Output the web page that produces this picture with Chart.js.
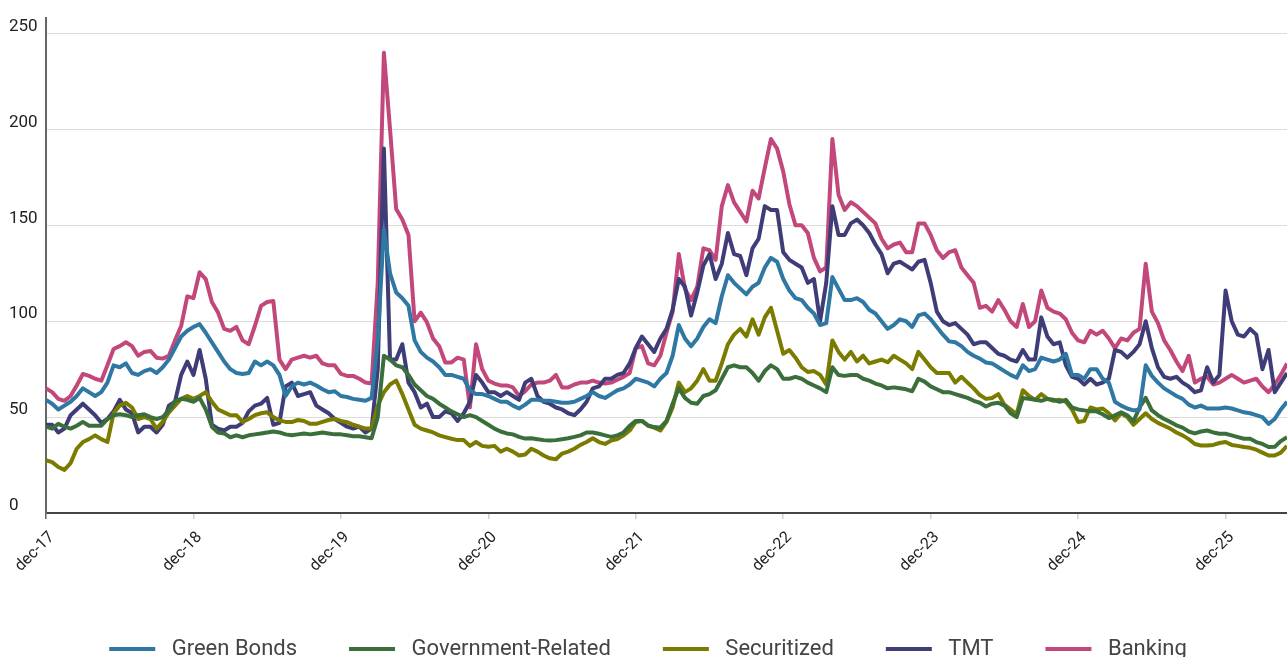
<!DOCTYPE html>
<html><head><meta charset="utf-8">
<script src="https://cdn.jsdelivr.net/npm/chart.js@4/dist/chart.umd.min.js"></script>
<style>
html,body{margin:0;padding:0;background:#fff;overflow:hidden;}
#wrap{position:relative;width:1287px;height:670px;}
</style></head><body>
<div id="wrap"><canvas id="c"></canvas></div>
<script>
// x categories: semi-monthly observation dates, Dec 2017 .. May 2026
const categories = [];
for (let i = 0; i < 203; i++) {
  const m = Math.floor(i / 2);
  const yr = 2017 + Math.floor((11 + m) / 12);
  const mo = (11 + m) % 12 + 1;
  categories.push(yr + '-' + String(mo).padStart(2, '0') + (i % 2 ? '-16' : '-01'));
}
const tickLabels = ['dec-17','dec-18','dec-19','dec-20','dec-21','dec-22','dec-23','dec-24','dec-25'];
const yTicks = [0, 50, 100, 150, 200, 250];
const seriesNames = ['Green Bonds','Government-Related','Securitized','TMT','Banking'];
const seriesColors = ['#2f78a3','#3a6e3b','#7b7b00','#3e3d78','#c2487b'];

const greenBonds = [59,57,54,56,58,61,65,63,61,63,68,77,76,78,73,72,74,75,73,76,80,86,92,95,97,98.5,94,89,84,79,75,73,72.5,73,79,77,79,77,72,61,66,68,67,68,66.5,64.5,63,63.5,61,60.5,59.5,59,58.5,60,90,148,125,115,112,108,90,84,81,79,76,72,72,71,70,64,62,62,61,59.5,58,58,56,54.5,56.5,59,59,58.5,58.5,58,57.5,57.5,58,59.5,61,63,61,60,62,64,65,67,70,69,68,66,70,73,82,98,91,87,91,97,101,99,113,124,120,117,114,118,120,128,133,131,122,116,112,111,107,104,98,99,123,117,111,111,112,110,106,104,100,96,98,101,100,97,103,104,101,97,93,89.5,89,87,84,82,80.5,78.5,78,76,74,72,70.5,77,74,75,81,80,79,80,83,72,72,70,75,75,70,68,58,56,54.5,53.5,54,77,71.5,68,65,63,61,59.5,56.5,55,56,54.5,54.5,54.5,55,54.5,53.5,52.5,52,51,50,46.5,49,54,58];
const governmentRelated = [45,44,46.5,45,44,45.5,47.5,45.5,45.5,45.5,49,51,51.5,51,50,51,51.5,50,49,50,53.5,58.5,59.5,59,58,60,54,45,42,41.5,39.5,40.5,39.5,40.5,41,41.5,42,42.5,42,41,40.5,41,41.5,41,41.5,42,41.5,41,41,40.5,40,40,39.5,39,50,82,80,77,76,72,67,64,61,59.5,57,55,53,51.5,50,51,50,48,46,44,42.5,41.5,41,39.7,38.8,39,38.5,38,37.8,38,38.5,39,39.7,40.5,42,42,41.3,40.5,39.7,40.5,42,45.5,48,48,45.7,44.8,44.5,48,57,65,60,57.5,57,61,62,64,70,76,77,76,76,73,69,74,77,75,70,70,71,70,68,66.5,65,63,76,72,71.5,72,72,70,69,67.5,66.5,65,65.5,65,64.5,63.5,70,68.5,66,64.5,63,63,62,61,60,58.5,57.5,55.5,57,57.5,56,52,50,60,59.5,59,58.5,59.5,59,58,59,55,54,53.5,53,53,51.5,49.5,51,52.5,51,47.8,55,60,53.5,51,49,47.5,45.7,44.5,42.5,41.5,42.5,43,42,41.3,41.3,40.5,39.6,38.7,38.7,37,36,34.4,34.5,37.5,39.5];
const securitized = [27.5,26.5,24,22.5,26,33.5,37,38.5,40.5,38.5,37,52,56,57.5,55,49,50,49,44,47.5,52.5,56,59.5,61,59.5,61,63,58,54,52.5,51,51,47.5,49,51,52,52.5,50,48.3,47.5,47.4,48.5,48,46.5,46.5,47.5,48.5,49,48,47.4,46,45,44,44,56,63,67,69,62,54,46,44,43,42,40.5,39.6,38.7,38,38,35,37,35,34.5,35,32,33.5,32,30,30.5,33.5,32,30,28.5,28,31,32,33.5,35.5,37,39,37,36,37.8,38.5,40.5,43,47.5,48,45.5,44.5,43,47.5,55,68,63,65,69,75,69,69,78,88,93,96,92,101,93,102,107,95,83,85,81,76,73.5,74,72,67,90,84,80,84,79,82,78,79,80,78.6,82,80,78,75,84,80,76,73,73,73,68,71,68,65,61.5,59.5,60,62,56.5,54,51.5,64,61,59,62,59.5,58.5,59,58,54,47.5,48,55,54,54.5,52,48.3,52,50,46,49,52,49,47,45.5,44,42,40.5,38.5,36,35.2,35.2,35.5,36.5,37,35.5,35,34.4,34,33,31.5,30,30,31.5,35];
const tmt = [46,46,42,44,51,54,57,54,51,47,49,53,59,54,52,42,45,45,42,46,56,58,72,79,72,85,70,46,44,43,45,45,47,53,56,57,60,46,47,66,68,61,62,63,56,54,52,49,47,45,44,45,42,44,75,190,80,80,88,68,63,55,57,50,50,53,52,48,52,58,72,68,63,63,61,63,61,59,68,70,61,58,57,55,54,52,51,54,58,65,66,70,70,72,73,78,86,92,88,84,91,96,106,122,118,103,115,129,135,122,130,146,135,134,124,138,143,160,158,158,136,132,130,128,120,122,100,120,160,145,145,151,153,150,146,140,135,125,130,131,129,127,131,132,120,105,100,98,99,96,93,88,89,89,86,83,82,80,79,85,80,80,102,92,88,89,77,71,70,67,70,67,68,70,85,84,81,84,88,100,86,76,71,70,71,68,66,63,64,76,68,72,116,100,93,92,96,93,75,85,63,68,73];
const banking = [65,63,59.5,58.5,61,66.5,72.5,71.5,70,69,77,85.5,87,89,87,82,84,84.5,81,80.5,82,90,97.5,113,112,125.5,122,110,104.5,96,95,97,90,88,97.5,108,110,110.5,80,75,80,81,82,81,82,78,77,77,72.5,71.5,71.5,70,68,67.5,120,240,200,158.5,153,145,100,104.5,99.5,91,87,78.5,78.5,81,80,55,88,75,69,67.5,66.5,66.5,65.5,61,63.5,67,68,68,69,72,65.5,65.5,67,68,68,69,68,67.5,68,69.5,71,73,86,87,78,77,82,94,105,135,117,111,118,138,137,132,160,171,162,157,152,168,164,180,195,190,178,161,150,150,146,133,126,128,195,166,158,162,160,157,154,151,143,138,140,141,136,136,151,151,145,137,133,136,137,128,124,120,107,108,105,111,106,100,97,109,97,100,116,107,105,104,101,94,90,89,95,93,95,91,86,91,90,94,96,130,105,99,90,85,79,74,82,68,70,71,67,68,70,72,70,68,69,70,66,63,67,72,78];

const seriesData = [greenBonds, governmentRelated, securitized, tmt, banking];
const FONT = 'Roboto, "Noto Sans", sans-serif';

new Chart(document.getElementById('c'), {
  type: 'line',
  data: {
    labels: categories,
    datasets: seriesNames.map((n, k) => ({
      label: n,
      data: seriesData[k],
      borderColor: seriesColors[k],
      backgroundColor: seriesColors[k],
      borderWidth: 4,
      pointRadius: 0,
      tension: 0,
      borderJoinStyle: 'round',
      fill: false
    }))
  },
  options: {
    responsive: true,
    maintainAspectRatio: false,
    animation: false,
    layout: { padding: { left: 9, right: 0, top: 15, bottom: 0 } },
    plugins: {
      tooltip: { enabled: false },
      legend: {
        position: 'bottom',
        labels: {
          boxWidth: 46,
          boxHeight: 4,
          padding: 52,
          color: '#444',
          font: { family: FONT, size: 22 },
          generateLabels: (chart) => Chart.defaults.plugins.legend.labels.generateLabels(chart)
            .map(l => Object.assign(l, { text: ' ' + l.text, lineWidth: 0 }))
        }
      }
    },
    scales: {
      x: {
        type: 'category',
        offset: false,
        grid: { drawOnChartArea: false, drawTicks: true, tickLength: 6,
                color: (ctx) => ctx.index === 0 ? '#666' : '#d0d0d0', lineWidth: 1.5 },
        border: { color: '#444', width: 2 },
        ticks: {
          autoSkip: false, maxRotation: 45, minRotation: 45, padding: 9, labelOffset: 6,
          color: '#222', font: { family: FONT, size: 16 },
          callback: (v) => tickLabels[v / 24]
        },
        afterBuildTicks: (s) => { s.ticks = s.ticks.filter(t => t.value % 24 === 0); },
        afterFit: (s) => { s.height = 73; }
      },
      y: {
        min: 0,
        max: 258,
        grid: { color: '#dcdcdc', lineWidth: 1, drawTicks: false },
        border: { color: '#666', width: 2 },
        ticks: {
          stepSize: 50, crossAlign: 'far', labelOffset: -7, padding: 8,
          color: '#222', font: { family: FONT, size: 17 }
        },
        afterBuildTicks: (s) => { s.ticks = yTicks.map(v => ({ value: v })); },
        afterFit: (s) => { s.width = 37; }
      }
    }
  }
});
</script>
</body></html>
